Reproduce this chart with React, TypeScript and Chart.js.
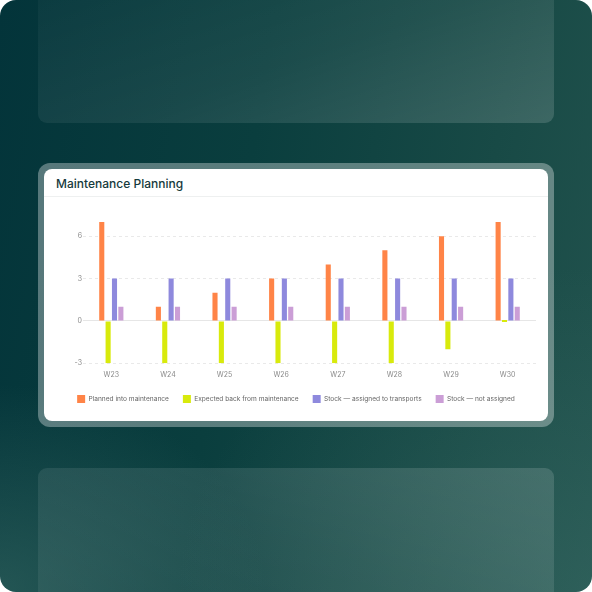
import React, { useEffect, useRef } from "react";
import { Chart, registerables } from "chart.js";

Chart.register(...registerables);

const weeks = ["W23", "W24", "W25", "W26", "W27", "W28", "W29", "W30"];
const plannedIntoMaintenance = [7, 1, 2, 3, 4, 5, 6, 7];
const expectedBack = [-3, -3, -3, -3, -3, -3, -2, 0];
const stockAssigned = [3, 3, 3, 3, 3, 3, 3, 3];
const stockNotAssigned = [1, 1, 1, 1, 1, 1, 1, 1];
const yTicks = [-3, 0, 3, 6];
const seriesLabels = [
  "Planned into maintenance",
  "Expected back from maintenance",
  "Stock \u2014 assigned to transports",
  "Stock \u2014 not assigned",
];
const seriesColors = ["#ff8447", "#d8ea0c", "#8e89dd", "#cb9ed6"];

function MaintenanceChart() {
  const ref = useRef<HTMLCanvasElement | null>(null);
  useEffect(() => {
    if (!ref.current) return;
    const values = [plannedIntoMaintenance, expectedBack, stockAssigned, stockNotAssigned];
    const chart = new Chart(ref.current, {
      type: "bar",
      data: {
        labels: weeks,
        datasets: values.map((d, i) => ({
          label: seriesLabels[i],
          data: d,
          backgroundColor: seriesColors[i],
          borderWidth: 0,
          categoryPercentage: 0.45,
          barPercentage: 0.8,
          minBarLength: i === 1 ? 2 : 0,
        })),
      },
      options: {
        animation: false,
        responsive: false,
        maintainAspectRatio: false,
        layout: { padding: { top: 22, left: 12, right: 12, bottom: 0 } },
        plugins: {
          tooltip: { enabled: false },
          legend: {
            position: "bottom",
            labels: {
              boxWidth: 8,
              boxHeight: 8,
              padding: 14,
              color: "#666",
              font: { size: 6.6, family: "Inter" },
            },
          },
        },
        scales: {
          x: {
            grid: { display: false, drawTicks: false },
            border: { display: false },
            ticks: { color: "#8a8a8a", padding: 7, font: { size: 7, family: "Inter" } },
            afterFit: (s: any) => {
              s.height = s.height - 4.7;
            },
          },
          y: {
            min: -3,
            max: 7,
            afterBuildTicks: (s: any) => {
              s.ticks = yTicks.map((v) => ({ value: v }));
            },
            afterFit: (s: any) => {
              s.width = 27;
            },
            grid: {
              drawTicks: false,
              color: (ctx: any) => (ctx.tick && ctx.tick.value === 0 ? "#e6e6e6" : "#e9e9e9"),
              lineWidth: 1,
            },
            border: {
              display: false,
              dash: (ctx: any) => (ctx.tick && ctx.tick.value === 0 ? [] : [3, 3]),
            },
            ticks: { color: "#8a8a8a", padding: 1, font: { size: 7, family: "Inter" } },
          },
        },
      } as any,
    });
    return () => chart.destroy();
  }, []);
  return <canvas ref={ref} width={504} height={213} style={{ display: "block", width: 504, height: 213 }} />;
}

export default function App() {
  return (
    <div style={{ position: "fixed", left: 0, top: 0, width: 592, height: 592, background: "#ffffff", overflow: "hidden" }}>
      <div
        style={{
          position: "absolute",
          inset: 0,
          borderRadius: 16,
          overflow: "hidden",
          background:
            "radial-gradient(ellipse 70% 55% at 100% 100%, rgba(60,110,104,0.45) 0%, rgba(60,110,104,0) 100%), radial-gradient(ellipse 45% 35% at 0% 100%, rgba(60,110,104,0.55) 0%, rgba(60,110,104,0) 100%), linear-gradient(100deg, #03343a 0%, #0a3e3e 40%, #184a46 75%, #22534e 100%)",
        }}
      >
        <div
          style={{
            position: "absolute",
            left: 38,
            top: 0,
            width: 516,
            height: 123,
            borderRadius: "0 0 9px 9px",
            background: "linear-gradient(160deg, rgba(255,255,255,0.03) 0%, rgba(255,255,255,0.07) 50%, rgba(255,255,255,0.15) 100%)",
          }}
        />
        <div
          style={{
            position: "absolute",
            left: 38,
            top: 468,
            width: 516,
            height: 140,
            borderRadius: 9,
            background: "linear-gradient(200deg, rgba(255,255,255,0.14) 0%, rgba(255,255,255,0.09) 50%, rgba(255,255,255,0.06) 100%)",
          }}
        />
        <div
          style={{
            position: "absolute",
            left: 38,
            top: 163,
            width: 516,
            height: 264,
            borderRadius: 12,
            background: "rgba(255,255,255,0.33)",
          }}
        />
        <div
          style={{
            position: "absolute",
            left: 44,
            top: 169,
            width: 504,
            height: 252,
            borderRadius: 8,
            background: "#ffffff",
            overflow: "hidden",
          }}
        >
          <div
            style={{
              position: "absolute",
              left: 12,
              top: 7,
              fontFamily: "Inter, 'Open Sans', sans-serif",
              fontSize: 12,
              fontWeight: 500,
              lineHeight: "16px",
              color: "#163a3c",
              whiteSpace: "nowrap",
            }}
          >
            Maintenance Planning
          </div>
          <div style={{ position: "absolute", left: 0, right: 0, top: 27, height: 1, background: "#eef0f0" }} />
          <div style={{ position: "absolute", left: 0, top: 31 }}>
            <MaintenanceChart />
          </div>
        </div>
      </div>
    </div>
  );
}
